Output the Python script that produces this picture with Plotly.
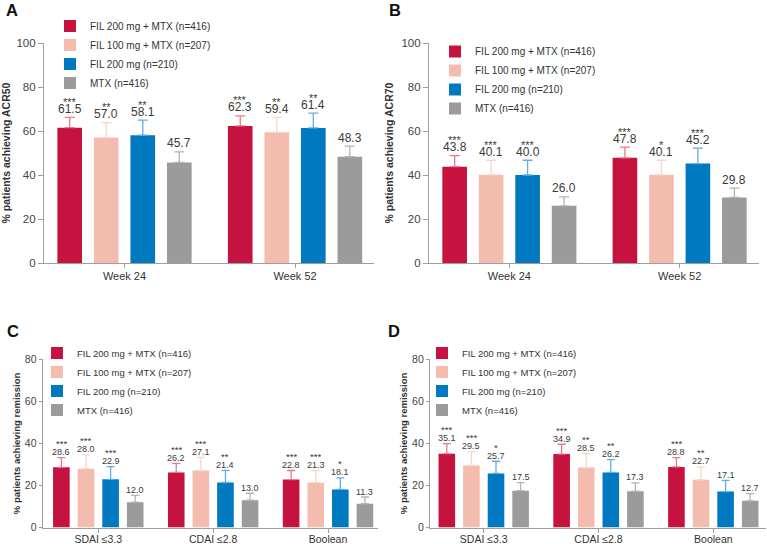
import plotly.graph_objects as go

W, H = 767, 544
FONT = "Arial, Liberation Sans, sans-serif"

groups = ["FIL 200 mg + MTX (n=416)", "FIL 100 mg + MTX (n=207)",
          "FIL 200 mg (n=210)", "MTX (n=416)"]
bar_colors = ["#C5123E", "#F4BCAE", "#0079C1", "#9B9B9B"]
err_colors = ["#E57A8C", "#F9D5CC", "#62AEE2", "#B3B3B3"]

weeks = ["Week 24", "Week 52"]
remission_cats = ["SDAI \u22643.3", "CDAI \u22642.8", "Boolean"]

# Panel A: ACR50 (rows = treatment groups, columns = categories)
acr50 = [[61.5, 62.3], [57.0, 59.4], [58.1, 61.4], [45.7, 48.3]]
acr50_err = [[4.7, 4.6], [6.8, 6.8], [6.8, 6.7], [4.8, 4.8]]
acr50_sig = [["***", "***"], ["**", "**"], ["**", "**"], ["", ""]]

# Panel B: ACR70
acr70 = [[43.8, 47.8], [40.1, 40.1], [40.0, 45.2], [26.0, 29.8]]
acr70_err = [[5.0, 4.9], [6.6, 6.6], [6.7, 7.0], [4.1, 4.2]]
acr70_sig = [["***", "***"], ["***", "*"], ["***", "***"], ["", ""]]

# Panel C: remission
remC = [[28.6, 26.2, 22.8], [28.0, 27.1, 21.3], [22.9, 21.4, 18.1], [12.0, 13.0, 11.3]]
remC_err = [[4.6, 4.3, 4.3], [6.5, 6.3, 5.8], [6.1, 5.8, 5.5], [3.3, 3.3, 3.2]]
remC_sig = [["***", "***", "***"], ["***", "***", "***"], ["***", "**", "*"], ["", "", ""]]

# Panel D: remission
remD = [[35.1, 34.9, 28.8], [29.5, 28.5, 22.7], [25.7, 26.2, 17.1], [17.5, 17.3, 12.7]]
remD_err = [[4.8, 4.7, 4.4], [6.5, 6.6, 6.1], [5.8, 6.1, 5.3], [3.8, 3.9, 3.4]]
remD_sig = [["***", "***", "***"], ["***", "**", "**"], ["*", "**", ""], ["", "", ""]]

BARGAP = 0.143
BARGROUPGAP = 0.325

big_style = dict(tick=11.5, cat=11, leg=10, val=12, val_shift=0.5, sig=11, sig_shift=8.5,
                 title=10.5, standoff=5, yticklen=5, catshift=-1, ewidth=5)
small_style = dict(tick=10.5, cat=10.5, leg=9.5, val=9, val_shift=-0.5, sig=9.5, sig_shift=7.5,
                   title=9.5, standoff=2, yticklen=3, catshift=-2, ewidth=4)

panels = [
    dict(letter="A", cats=weeks, vals=acr50, errs=acr50_err, sigs=acr50_sig,
         ytitle="% patients achieving ACR50", yrange=[0, 100], dtick=20,
         xpx=(44, 374), ypx=(43, 263), xrange=[-0.472, 1.463],
         leg=(50, 11.5), lpos=(4, -1), st=big_style),
    dict(letter="B", cats=weeks, vals=acr70, errs=acr70_err, sigs=acr70_sig,
         ytitle="% patients achieving ACR70", yrange=[0, 100], dtick=20,
         xpx=(429, 759), ypx=(43, 263), xrange=[-0.472, 1.466],
         leg=(435, 37), lpos=(387, -1), st=big_style),
    dict(letter="C", cats=remission_cats, vals=remC, errs=remC_err, sigs=remC_sig,
         ytitle="% patients achieving remission", yrange=[0, 80], dtick=20,
         xpx=(42.7, 378), ypx=(359.3, 527.5), xrange=[-0.484, 2.435],
         leg=(37, 338.5), lpos=(5, 320), st=small_style),
    dict(letter="D", cats=remission_cats, vals=remD, errs=remD_err, sigs=remD_sig,
         ytitle="% patients achieving remission", yrange=[0, 80], dtick=20,
         xpx=(430, 766), ypx=(359.3, 527.5), xrange=[-0.468, 2.459],
         leg=(422, 338.5), lpos=(386, 320), st=small_style),
]

fig = go.Figure()
annotations = []
layout = dict(
    width=W, height=H, margin=dict(l=0, r=0, t=0, b=0),
    paper_bgcolor="white", plot_bgcolor="white",
    barmode="group", bargap=BARGAP, bargroupgap=BARGROUPGAP,
    font=dict(family=FONT, color="#333333"),
)

slot = (1 - BARGAP) / len(groups)

for p_i, p in enumerate(panels):
    st = p["st"]
    n = "" if p_i == 0 else str(p_i + 1)
    xa, ya = "x" + n, "y" + n
    legname = "legend" + n
    for g_i, g in enumerate(groups):
        fig.add_trace(go.Bar(
            x=p["cats"], y=p["vals"][g_i], name=g,
            marker=dict(color=bar_colors[g_i], line=dict(width=0)),
            error_y=dict(type="data", symmetric=False, array=p["errs"][g_i],
                         arrayminus=[0] * len(p["cats"]),
                         color=err_colors[g_i], thickness=1.3, width=st["ewidth"]),
            xaxis=xa, yaxis=ya, legend=legname, showlegend=True,
        ))
        # value + significance labels
        for c_i, c in enumerate(p["cats"]):
            xpos = c_i + (g_i - (len(groups) - 1) / 2) * slot
            top = p["vals"][g_i][c_i] + p["errs"][g_i][c_i]
            annotations.append(dict(
                x=xpos, y=top, xref=xa, yref=ya, showarrow=False,
                text=f"{p['vals'][g_i][c_i]:.1f}", yanchor="bottom",
                yshift=st["val_shift"], borderpad=0,
                font=dict(size=st["val"], color="#3A3A3A", family=FONT),
            ))
            if p["sigs"][g_i][c_i]:
                annotations.append(dict(
                    x=xpos, y=top, xref=xa, yref=ya, showarrow=False,
                    text=p["sigs"][g_i][c_i], yanchor="bottom",
                    yshift=st["sig_shift"], borderpad=0,
                    font=dict(size=st["sig"], color="#3A3A3A", family=FONT),
                ))
    x0, x1 = p["xpx"]
    yt, yb = p["ypx"]
    axis_common = dict(showline=True, linecolor="#9E9E9E", linewidth=1.2,
                       ticks="outside", tickcolor="#9E9E9E", showgrid=False,
                       zeroline=False, automargin=False)
    layout["xaxis" + n] = dict(
        domain=[x0 / W, x1 / W], anchor=ya, range=p["xrange"],
        ticklen=4, tickwidth=1.2, ticklabelstandoff=st["catshift"],
        tickfont=dict(size=st["cat"], color="#333333", family=FONT),
        **axis_common)
    layout["yaxis" + n] = dict(
        domain=[1 - yb / H, 1 - yt / H], anchor=xa, range=p["yrange"],
        dtick=p["dtick"], ticklen=st["yticklen"], tickwidth=1.2,
        tickfont=dict(size=st["tick"], color="#444444", family=FONT),
        title=dict(text="<b>" + p["ytitle"] + "</b>", standoff=st["standoff"],
                   font=dict(size=st["title"], color="#333333", family=FONT)),
        **axis_common)
    lx, ly = p["leg"]
    layout[legname] = dict(
        x=lx / W, y=1 - ly / H, xanchor="left", yanchor="top",
        bgcolor="rgba(0,0,0,0)", borderwidth=0,
        font=dict(size=st["leg"], color="#333333", family=FONT),
        traceorder="normal",
    )
    px_, py_ = p["lpos"]
    annotations.append(dict(
        x=px_ / W, y=1 - py_ / H, xref="paper", yref="paper", showarrow=False,
        text="<b>" + p["letter"] + "</b>", xanchor="left", yanchor="top",
        font=dict(size=16.5, color="#111111", family=FONT),
    ))

layout["annotations"] = annotations
fig.update_layout(**layout)
fig.write_html("out.html", config={"displayModeBar": False},
               post_script="document.body.style.margin='0px';document.body.style.overflow='hidden';")
